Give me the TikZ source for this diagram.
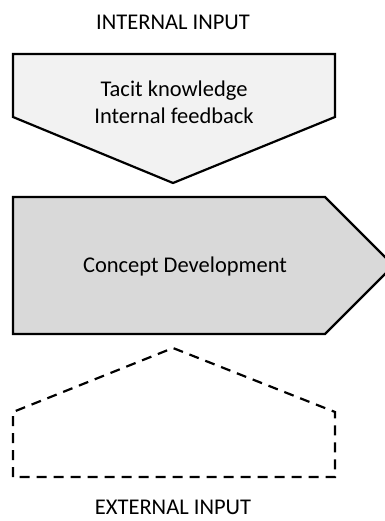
\documentclass[tikz,border=0pt]{standalone}
\usepackage{fontspec}
\setmainfont{Carlito}
\begin{document}
\begin{tikzpicture}[x=1pt,y=-1pt,
  lbl/.style={font=\fontsize{22.5}{27}\selectfont, align=center, inner sep=0pt},
  shapeline/.style={line width=2.2pt, line join=miter},
  dashline/.style={line width=2.2pt, dash pattern=on 10pt off 7pt}]
  \useasboundingbox (0,0) rectangle (384,521);

  % internal input: pentagon pointing down
  \draw[shapeline, fill=black!5] (13,54) -- (335,54) -- (335,117) -- (173,183) -- (13,117) -- cycle;
  % concept development: pentagon pointing right (tip runs past the right edge)
  \draw[shapeline, fill=black!15] (13,197) -- (325,197) -- (393.5,265.5) -- (325,334) -- (13,334) -- cycle;
  % external input: dashed pentagon pointing up
  \draw[dashline] (13,477) -- (13,412) -- (173,348) -- (335,412) -- (335,477) -- cycle;

  \node[lbl] (intin) at (173,22) {INTERNAL INPUT};
  \node[lbl] (tacit) at (174,102) {Tacit knowledge\\Internal feedback};
  \node[lbl] (concept) at (185,266) {Concept Development};
  \node[lbl] (extin) at (173,507.5) {EXTERNAL INPUT};
\end{tikzpicture}
\end{document}
